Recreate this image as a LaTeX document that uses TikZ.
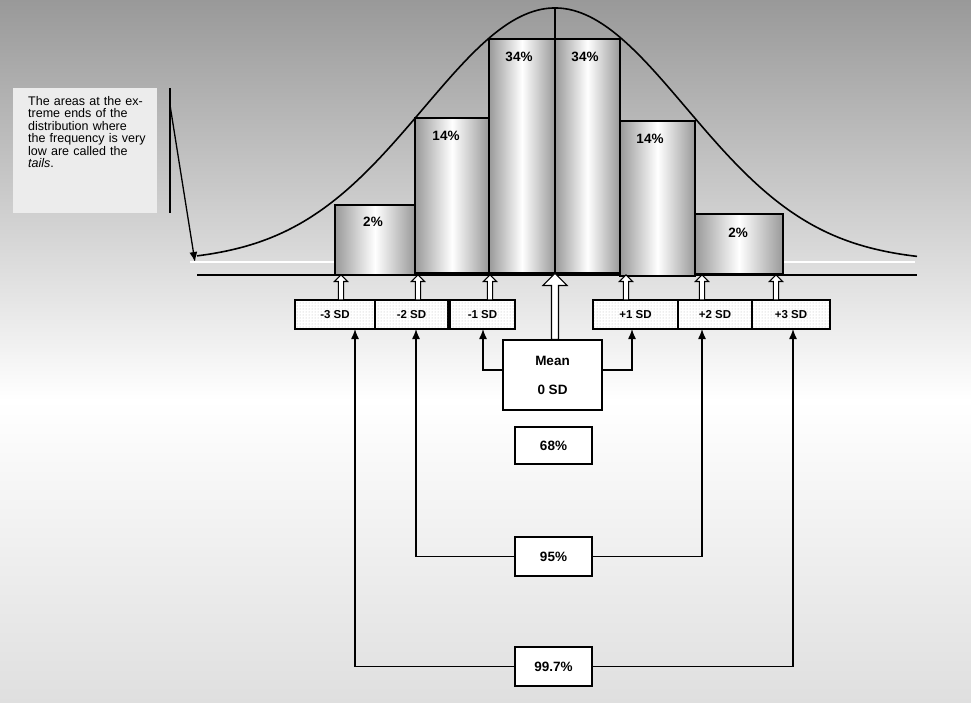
\documentclass[tikz,border=0pt]{standalone}
\usepackage{fontspec}
\setmainfont{Liberation Sans}
\usetikzlibrary{shapes.arrows,patterns,arrows.meta}
\tikzset{
  bar/.style={draw, line width=1.6pt, shading=axis, left color=gray!80, right color=gray!80, middle color=white, shading angle=90},
  sdbox/.style={draw, line width=1.2pt, fill=white},
  valbox/.style={draw, line width=1.3pt, fill=white, font=\bfseries\fontsize{13.5}{15}\selectfont},
  pct/.style={font=\bfseries\fontsize{13.5}{15}\selectfont},
  hollow/.style={single arrow, draw, fill=white, rotate=90, line width=1.1pt, single arrow head extend=3pt, minimum width=13pt, single arrow tip angle=90, inner sep=1.5pt},
  link/.style={line width=1.3pt, -{Latex[length=10pt, width=8pt]}}
}
\begin{document}
\begin{tikzpicture}[x=1pt, y=-1pt]
\useasboundingbox (0,0) rectangle (971,702);
\shade[top color=gray!80, bottom color=white] (0,0) rectangle (971,400);
\shade[top color=white, bottom color=gray!25] (0,400) rectangle (971,702);
% tails note
\fill[gray!15] (13,88) rectangle (157,213);
\node[anchor=north west, align=left, text width=120pt, font=\fontsize{12.5}{12.5}\selectfont, inner sep=0pt] (note) at (28,96)
  {The areas at the extreme ends of the distribution where the frequency is very low are called the \textit{tails}.};
\draw[line width=1.6pt] (170,88) -- (170,213);
\coordinate (tailtop) at (170,105);
\coordinate (tailend) at (195,262);
\draw[link] (tailtop) -- (tailend);
% axis
\draw[white, line width=2pt] (190,262) -- (915,262);
\draw[line width=1.6pt] (197,275) -- (917,275);
% bars
\draw[bar] (335,205) rectangle (415,275) node[pct] (b1) at (373,222) {2\%};
\draw[bar] (415,118) rectangle (489,273) node[pct] (b2) at (446,136) {14\%};
\draw[bar] (489,39) rectangle (555,273) node[pct] (b3) at (519,57) {34\%};
\draw[bar] (555,39) rectangle (620,273) node[pct] (b4) at (585,57) {34\%};
\draw[bar] (620,121) rectangle (695,276) node[pct] (b5) at (650,139) {14\%};
\draw[bar] (695,214) rectangle (783,274) node[pct] (b6) at (738,233) {2\%};
% curve
\draw[line width=1.6pt, domain=197:917, samples=120, smooth] plot (\x, {262-254*exp(-((\x-555)/185.5)^2)});
\draw[line width=1.2pt] (555,8) -- (555,39);
% SD boxes
\foreach \name/\xa/\xb/\txt in {m3/295/375/-3 SD, m2/375/448/-2 SD, m1/450/515/-1 SD, p1/593/678/+1 SD, p2/678/752/+2 SD, p3/752/830/+3 SD}{
  \draw[sdbox] (\xa,300) rectangle (\xb,329);
  \fill[pattern=dots, pattern color=gray!55] (\xa+1,301) rectangle (\xb-1,328);
  \node[font=\bfseries\fontsize{11.5}{13}\selectfont] (\name) at ({(\xa+\xb)/2},314.5) {\txt};
}
% small hollow arrows
\foreach \xx in {341, 418, 490, 626, 702, 776}{
  \node[hollow, minimum height=25pt, anchor=tail] at (\xx,300.5) {};
}
% mean
\node[valbox, minimum width=99pt, minimum height=70pt, align=center] (mean) at (552.5,375) {Mean\\[14pt]0 SD};
\node[hollow, minimum height=66pt, minimum width=24pt, single arrow head extend=5pt, anchor=tail] at (555,340) {};
\coordinate (ml) at (483,370);
\coordinate (mr) at (632,370);
\draw[link] (mean.west |- ml) -| (483,329);
\draw[link] (mean.east |- mr) -| (632,329);
% ranges
\node[valbox, minimum width=77pt, minimum height=37pt] (r68) at (553.5,445.5) {68\%};
\node[valbox, minimum width=77pt, minimum height=39pt] (r95) at (553.5,556.5) {95\%};
\node[valbox, minimum width=77pt, minimum height=39pt] (r99) at (553.5,666.5) {99.7\%};
\draw[link] (r95.west) -| (416,329);
\draw[link] (r95.east) -| (702,329);
\draw[link] (r99.west) -| (355,329);
\draw[link] (r99.east) -| (793,329);
\end{tikzpicture}
\end{document}
